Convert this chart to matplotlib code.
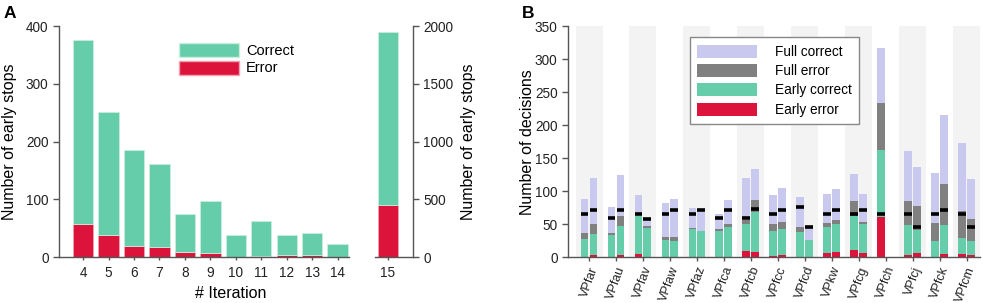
import numpy as np
import matplotlib
matplotlib.use("Agg")
import matplotlib.pyplot as plt
from matplotlib.patches import Patch

plt.rcParams['font.family'] = ['Liberation Sans', 'DejaVu Sans']

# ---------------- Panel A data ----------------
iterations = [4, 5, 6, 7, 8, 9, 10, 11, 12, 13, 14]
a_error = [58, 38, 19, 17, 10, 7, 1, 3, 4, 4, 0]
a_correct = [318, 214, 167, 144, 65, 90, 38, 59, 34, 38, 23]
last_iteration = [15]
last_error = [449]
last_correct = [1499]

# ---------------- Panel B data ----------------
subjects = ['VPfar', 'VPfau', 'VPfav', 'VPfaw', 'VPfaz', 'VPfca', 'VPfcb', 'VPfcc',
            'VPfcd', 'VPkw', 'VPfcg', 'VPfch', 'VPfcj', 'VPfck', 'VPfcm']
# first bar of each subject (segment sizes)
b1_early_error   = [0, 0, 5, 0, 0, 0, 9.5, 2, 0, 6, 11, 60.5, 3, 1, 5]
b1_early_correct = [28, 33, 57, 26, 42.5, 40, 41, 38, 38.5, 40, 51.5, 102, 45.5, 23, 24]
b1_full_error    = [9, 4, 0, 4.5, 2.5, 3, 5.5, 11, 7, 6.5, 22.5, 71.5, 36.5, 28.5, 41]
b1_full_correct  = [51, 38.5, 32, 51.5, 29, 22.5, 64, 43, 46.5, 43, 41, 83, 76.5, 74.5, 103]
b1_marker        = [65, 60, 66, 66, 66, 60, 60, 66, 76, 66, 66, 66, 66, 66, 66]
# second bar of each subject (nan = no bar)
nan = np.nan
b2_early_error   = [4, 3, 0, 0, 0, 0, 8, 3, 0, 7.5, 6, nan, 6, 5, 4]
b2_early_correct = [31, 45, 45, 25, 40, 46.5, 61, 40.5, 26, 43, 44.5, nan, 36, 44, 21]
b2_full_error    = [15, 15, 2, 5.5, 0, 4, 17, 9.5, 0, 6, 3.5, nan, 36, 62.5, 33.5]
b2_full_correct  = [70, 61, 13, 57.5, 33, 35.5, 48, 51.5, 21, 47, 41.5, nan, 59, 104.5, 60]
b2_marker        = [71, 71, 57.5, 72, 72, 72, 73, 72, 46, 72, 72, nan, 45.5, 72, 45.5]

GREEN = '#66cdaa'
RED = '#dc143c'
LAV = '#c9c9f0'
GRAY = '#808080'
SPINE = '#555555'

W, H = 983, 303
fig = plt.figure(figsize=(W / 100, H / 100), dpi=100)

def fx(px):
    return px / W

def fy(py):
    return 1 - py / H

y_top, y_bot = 26, 257.3

def style_axes(ax, size):
    for s in ax.spines.values():
        s.set_color(SPINE)
        s.set_linewidth(1.0)
    ax.tick_params(colors=SPINE, labelcolor='#222222', labelsize=size, length=4, width=1)

# ---- Panel A left ----
axA = fig.add_axes([fx(59), fy(y_bot), fx(349 - 59), (y_bot - y_top) / H])
axA.bar(iterations, a_error, width=0.8, color=RED, edgecolor='#f0a0b0', linewidth=0.6, label='Error')
axA.bar(iterations, a_correct, bottom=a_error, width=0.8, color=GREEN,
        edgecolor='#c8eedd', linewidth=0.6, label='Correct')
axA.set_xlim(3.05, 14.45)
axA.set_ylim(0, 400)
axA.set_yticks([0, 100, 200, 300, 400])
axA.set_xticks(iterations)
axA.spines['top'].set_visible(False)
axA.spines['right'].set_visible(False)
style_axes(axA, 9.8)
axA.tick_params(axis='x', length=2.5)
hA = [Patch(facecolor=GREEN, edgecolor='#c8eedd'), Patch(facecolor=RED, edgecolor='#f0a0b0')]
axA.legend(hA, ['Correct', 'Error'], loc='upper left', bbox_to_anchor=(0.413, 0.928),
           frameon=False, fontsize=10.5, handlelength=4.1, handleheight=1.1,
           labelspacing=0.2, handletextpad=0.5, borderpad=0, borderaxespad=0)

# ---- Panel A right ----
axA2 = fig.add_axes([fx(375), fy(y_bot), fx(413 - 375), (y_bot - y_top) / H])
axA2.bar(last_iteration, last_error, width=0.8, color=RED, edgecolor='#f0a0b0', linewidth=0.6)
axA2.bar(last_iteration, last_correct, bottom=last_error, width=0.8, color=GREEN,
         edgecolor='#c8eedd', linewidth=0.6)
axA2.set_xlim(14.5, 16.0)
axA2.set_ylim(0, 2000)
axA2.set_xticks(last_iteration)
axA2.set_yticks([0, 500, 1000, 1500, 2000])
axA2.yaxis.tick_right()
axA2.spines['top'].set_visible(False)
axA2.spines['left'].set_visible(False)
style_axes(axA2, 9.8)
axA2.tick_params(axis='x', length=2.5)

fig.text(fx(10), fy(142), 'Number of early stops', rotation=90, ha='center', va='center', fontsize=11.5)
fig.text(fx(468), fy(142), 'Number of early stops', rotation=90, ha='center', va='center', fontsize=11.5)
fig.text(fx(231), fy(293), '# Iteration', ha='center', va='center', fontsize=11.5)
fig.text(fx(4), fy(13), 'A', ha='left', va='center', fontsize=12.5, fontweight='bold')
fig.text(fx(522), fy(13), 'B', ha='left', va='center', fontsize=12.5, fontweight='bold')

# ---- Panel B ----
axB = fig.add_axes([fx(568), fy(y_bot), fx(980 - 568), (y_bot - y_top) / H])
x = np.arange(len(subjects))
for i in x:
    if i % 2 == 0:
        axB.axvspan(i - 0.5, i + 0.5, color='#f3f3f3', zorder=0, lw=0)

bw, off = 0.29, 0.165

def stack(xpos, ee, ec, fe, fc, mk):
    ee, ec, fe, fc = map(np.asarray, (ee, ec, fe, fc))
    b0 = np.zeros_like(ee, dtype=float)
    axB.bar(xpos, ee, bottom=b0, width=bw, color=RED, edgecolor='none', zorder=2)
    b0 = b0 + ee
    axB.bar(xpos, ec, bottom=b0, width=bw, color=GREEN, edgecolor='none', zorder=2)
    b0 = b0 + ec
    axB.bar(xpos, fe, bottom=b0, width=bw, color=GRAY, edgecolor='none', zorder=2)
    b0 = b0 + fe
    axB.bar(xpos, fc, bottom=b0, width=bw, color=LAV, edgecolor='none', zorder=2)
    axB.hlines(mk, xpos - bw / 2, xpos + bw / 2, color='black', lw=2.6, zorder=3)

stack(x - off, b1_early_error, b1_early_correct, b1_full_error, b1_full_correct, b1_marker)
stack(x + off, b2_early_error, b2_early_correct, b2_full_error, b2_full_correct, b2_marker)

axB.set_xlim(-0.78, 14.5)
axB.set_ylim(0, 350)
axB.set_yticks(range(0, 351, 50))
axB.set_xticks(x)
axB.set_xticklabels(subjects, rotation=70, ha='right', rotation_mode='anchor')
axB.spines['top'].set_visible(False)
axB.spines['right'].set_visible(False)
style_axes(axB, 9.8)
axB.tick_params(axis='x', length=3, labelsize=9.0, pad=2.5)

fig.text(fx(527), fy(142), 'Number of decisions', rotation=90, ha='center', va='center', fontsize=11.5)

hB = [Patch(facecolor=LAV), Patch(facecolor=GRAY), Patch(facecolor=GREEN), Patch(facecolor=RED)]
legB = axB.legend(hB, ['Full correct', 'Full error', 'Early correct', 'Early error'],
                  loc='upper left', bbox_to_anchor=(0.296, 0.952), frameon=True, fancybox=False,
                  fontsize=9.8, handlelength=4.4, handleheight=1.1, labelspacing=0.38,
                  handletextpad=1.3, borderpad=0.55, borderaxespad=0)
legB.get_frame().set_edgecolor('#888888')
legB.get_frame().set_linewidth(1.0)
legB.get_frame().set_alpha(1)

fig.savefig('out.png', dpi=100)
